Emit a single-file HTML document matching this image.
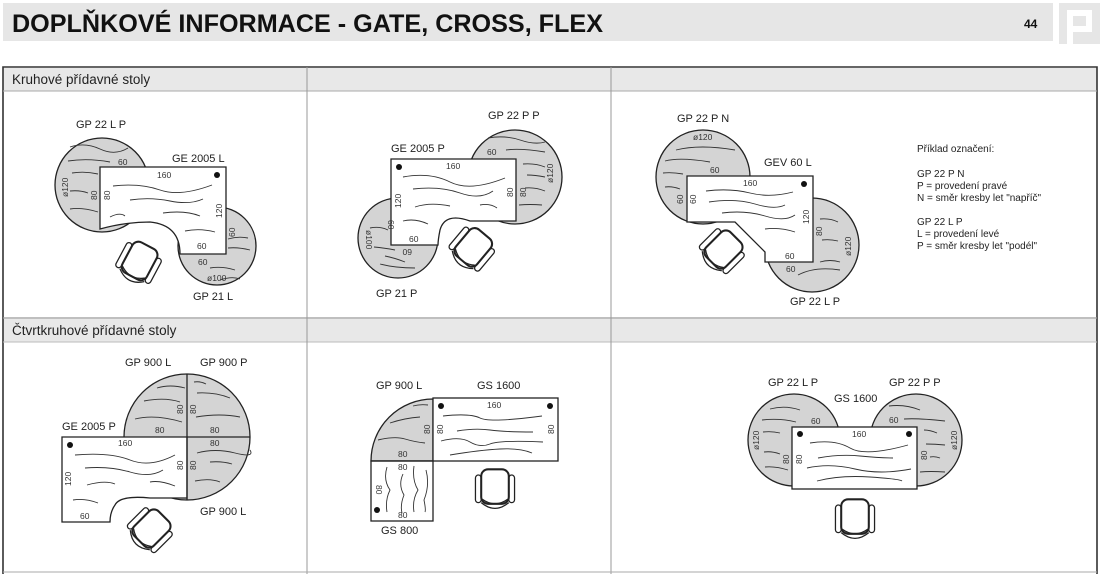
<!DOCTYPE html>
<html><head><meta charset="utf-8"><style>
html,body{margin:0;padding:0;background:#fff;width:1100px;height:574px;overflow:hidden}
svg{display:block}
text{font-family:"Liberation Sans",Arial,sans-serif;fill:#222}
.l{font-size:11px}
.d{font-size:8.5px;fill:#333}
.g{fill:#d4d4d4;stroke:#222;stroke-width:1.3}
.w{fill:#fff;stroke:#222;stroke-width:1.3}
.v{fill:none;stroke:#333;stroke-width:0.9}
</style></head><body>
<svg width="1100" height="574" viewBox="0 0 1100 574" xmlns="http://www.w3.org/2000/svg">
<defs>
<g id="ch" transform="scale(1.15)">
<rect x="-17" y="-13" width="5" height="24" rx="2.5" fill="#fff" stroke="#222" stroke-width="1.1"/>
<rect x="12" y="-13" width="5" height="24" rx="2.5" fill="#fff" stroke="#222" stroke-width="1.1"/>
<rect x="-12" y="-18" width="24" height="30" rx="6" fill="#fff" stroke="#222" stroke-width="1.8"/>
<path d="M-11 8 Q0 16 11 8 M-12 11 Q0 21 12 11" fill="none" stroke="#222" stroke-width="1.1"/>
</g>
</defs>
<!-- header -->
<rect x="3" y="3" width="1050" height="38" fill="#e6e6e6"/>
<text x="12" y="32" textLength="591" lengthAdjust="spacingAndGlyphs" style="font-size:25px;font-weight:bold;fill:#111">DOPLŇKOVÉ INFORMACE - GATE, CROSS, FLEX</text>
<text x="1024" y="28" style="font-size:12px;font-weight:bold;fill:#111">44</text>
<rect x="1059" y="3" width="41" height="41" fill="#e6e6e6"/>
<path d="M1067 10 H1092 V32 H1073 V44 H1067 Z M1073 16 V26 H1086 V16 Z" fill="#fff"/>
<!-- table -->
<rect x="3" y="68" width="1094" height="23" fill="#e8e8e8"/>
<rect x="3" y="319" width="1094" height="23" fill="#e8e8e8"/>
<path d="M3 574 V67 H1097 V574" fill="none" stroke="#333" stroke-width="1.6"/>
<line x1="3" y1="91" x2="1097" y2="91" stroke="#aaa"/>
<line x1="3" y1="318" x2="1097" y2="318" stroke="#999" stroke-width="1.2"/>
<line x1="3" y1="342" x2="1097" y2="342" stroke="#bbb"/>
<line x1="307" y1="67" x2="307" y2="574" stroke="#999"/>
<line x1="611" y1="67" x2="611" y2="574" stroke="#999"/>
<line x1="3" y1="572" x2="1097" y2="572" stroke="#aaa"/>
<text x="12" y="84" style="font-size:13.5px">Kruhové přídavné stoly</text>
<text x="12" y="335" style="font-size:13.5px">Čtvrtkruhové přídavné stoly</text>

<!-- panel 1 -->
<circle cx="102" cy="185" r="47" class="g"/>
<circle cx="217" cy="246" r="39" class="g"/>
<path d="M100 167 H226 V254 H180 Q180 225 150 222 Q125 222 100 229 Z" class="w"/>
<circle cx="217" cy="175" r="3" fill="#111"/>
<path class="v" d="M70 147 Q85 142 100 149 T128 148 M68 161 Q88 158 110 162 M72 173 Q85 171 98 174 M70 191 Q80 190 88 193 M70 209 Q82 207 98 212 M113 186 Q140 183 160 190 T212 185 M130 200 Q150 197 170 201 T203 199 M110 217 Q120 212 125 216 M163 213 Q185 210 200 216 M185 231 Q200 228 215 232 M210 268 Q222 266 235 270 M228 239 Q238 236 248 238 M228 248 Q238 247 250 250 M220 280 Q232 276 240 279"/>
<text x="76" y="128" class="l">GP 22 L P</text>
<text x="172" y="162" class="l">GE 2005 L</text>
<text x="193" y="300" class="l">GP 21 L</text>
<text x="157" y="178" class="d">160</text>
<text x="118" y="165" class="d">60</text>
<text x="197" y="249" class="d">60</text>
<text x="198" y="265" class="d">60</text>
<text x="207" y="281" class="d">ø100</text>
<text class="d" transform="translate(97,200) rotate(-90)">80</text>
<text class="d" transform="translate(110,200) rotate(-90)">80</text>
<text class="d" transform="translate(68,197) rotate(-90)">ø120</text>
<text class="d" transform="translate(222,218) rotate(-90)">120</text>
<text class="d" transform="translate(235,237) rotate(-90)">60</text>
<use href="#ch" transform="translate(138,264) rotate(28)"/>

<!-- panel 2 -->
<circle cx="515" cy="177" r="47" class="g"/>
<circle cx="398" cy="238" r="40" class="g"/>
<path d="M391 159 H516 V221 H470 Q445 212 440 230 Q438 240 438 245 H391 Z" class="w"/>
<circle cx="399" cy="167" r="3" fill="#111"/>
<path class="v" d="M488 138 Q505 135 520 140 T545 142 M506 150 Q520 148 545 152 M523 164 Q535 163 545 167 M527 175 Q535 175 545 177 M525 188 Q535 187 545 191 M519 205 Q530 204 542 205 M403 177 Q430 172 450 182 T505 178 M413 189 Q440 186 460 193 T493 191 M415 207 Q430 202 450 206 M480 205 Q490 203 497 208 M403 221 Q415 218 428 224 M370 228 Q380 226 388 230 M374 247 Q385 248 395 250 M385 256 Q395 258 405 262 M380 264 Q395 268 415 268"/>
<text x="488" y="119" class="l">GP 22 P P</text>
<text x="391" y="152" class="l">GE 2005 P</text>
<text x="376" y="297" class="l">GP 21 P</text>
<text x="446" y="169" class="d">160</text>
<text x="487" y="155" class="d">60</text>
<text x="409" y="242" class="d">60</text>
<text class="d" transform="translate(412,249) rotate(180)">60</text>
<text class="d" transform="translate(513,197) rotate(-90)">80</text>
<text class="d" transform="translate(526,197) rotate(-90)">80</text>
<text class="d" transform="translate(553,183) rotate(-90)">ø120</text>
<text class="d" transform="translate(401,208) rotate(-90)">120</text>
<text class="d" transform="translate(388,220) rotate(90)">60</text>
<text class="d" transform="translate(366,230) rotate(90)">ø100</text>
<use href="#ch" transform="translate(471,250) rotate(40)"/>

<!-- panel 3 -->
<circle cx="703" cy="177" r="47" class="g"/>
<circle cx="812" cy="245" r="47" class="g"/>
<path d="M687 176 H813 V262 H765 V252 L735 222 H687 Z" class="w"/>
<circle cx="804" cy="184" r="3" fill="#111"/>
<path class="v" d="M676 150 Q700 144 735 150 M665 161 Q680 157 710 162 M663 173 Q672 172 683 174 M665 187 Q672 186 680 189 M706 191 Q730 188 750 193 T793 192 M709 202 Q735 198 755 204 T785 205 M722 213 Q745 210 765 216 T795 215 M765 229 Q780 227 795 232 M820 219 Q830 218 838 222 M822 240 Q830 239 838 241 M820 262 Q830 259 840 262 M798 275 Q815 266 840 270"/>
<text x="677" y="122" class="l">GP 22 P N</text>
<text x="764" y="166" class="l">GEV 60 L</text>
<text x="790" y="305" class="l">GP 22 L P</text>
<text x="743" y="186" class="d">160</text>
<text x="710" y="173" class="d">60</text>
<text x="785" y="259" class="d">60</text>
<text x="786" y="272" class="d">60</text>
<text x="693" y="140" class="d">ø120</text>
<text class="d" transform="translate(683,204) rotate(-90)">60</text>
<text class="d" transform="translate(696,204) rotate(-90)">60</text>
<text class="d" transform="translate(809,224) rotate(-90)">120</text>
<text class="d" transform="translate(822,236) rotate(-90)">80</text>
<text class="d" transform="translate(851,256) rotate(-90)">ø120</text>
<use href="#ch" transform="translate(721,252) rotate(45)"/>
<text x="917" y="152" style="font-size:10px">Příklad označení:</text>
<text x="917" y="177" style="font-size:10px">GP 22 P N</text>
<text x="917" y="189" style="font-size:10px">P = provedení pravé</text>
<text x="917" y="201" style="font-size:10px">N = směr kresby let "napříč"</text>
<text x="917" y="225" style="font-size:10px">GP 22 L  P</text>
<text x="917" y="237" style="font-size:10px">L = provedení levé</text>
<text x="917" y="249" style="font-size:10px">P = směr kresby let "podél"</text>

<!-- panel 4 -->
<circle cx="187" cy="437" r="63" class="g"/>
<path d="M62 437 H187 V498 H150 Q120 495 115 505 Q110 512 110 522 H62 Z" class="w"/>
<line x1="187" y1="374" x2="187" y2="500" stroke="#222" stroke-width="1.3"/>
<line x1="187" y1="437" x2="250" y2="437" stroke="#222" stroke-width="1.3"/>
<circle cx="70" cy="445" r="3" fill="#111"/>
<path class="v" d="M157 388 Q170 384 185 388 M144 401 Q165 397 180 402 M135 419 Q155 414 182 422 M194 382 Q200 381 206 384 M197 393 Q215 392 230 398 M196 417 Q220 413 240 417 M197 453 Q215 448 235 453 T250 450 M210 462 Q222 461 232 464 M195 481 Q210 478 220 482 M75 455 Q110 452 130 460 T175 455 M85 468 Q110 466 130 472 T163 470 M87 485 Q105 480 115 484 M150 482 Q160 480 175 486 M73 500 Q85 498 98 503"/>
<text x="125" y="366" class="l">GP 900 L</text>
<text x="200" y="366" class="l">GP 900 P</text>
<text x="62" y="430" class="l">GE 2005 P</text>
<text x="200" y="515" class="l">GP 900 L</text>
<text x="118" y="446" class="d">160</text>
<text x="155" y="433" class="d">80</text>
<text x="210" y="433" class="d">80</text>
<text x="210" y="446" class="d">80</text>
<text x="80" y="519" class="d">60</text>
<text class="d" transform="translate(183,414) rotate(-90)">80</text>
<text class="d" transform="translate(196,414) rotate(-90)">80</text>
<text class="d" transform="translate(183,470) rotate(-90)">80</text>
<text class="d" transform="translate(196,470) rotate(-90)">80</text>
<text class="d" transform="translate(71,486) rotate(-90)">120</text>
<use href="#ch" transform="translate(149,531) rotate(45)"/>

<!-- panel 5 -->
<path d="M371 461 A62 62 0 0 1 433 399 V461 Z" class="g"/>
<rect x="433" y="398" width="125" height="63" class="w"/>
<rect x="371" y="461" width="62" height="60" class="w"/>
<line x1="371" y1="461" x2="433" y2="461" stroke="#222" stroke-width="1.3"/>
<circle cx="441" cy="406" r="3" fill="#111"/>
<circle cx="550" cy="406" r="3" fill="#111"/>
<circle cx="377" cy="510" r="3" fill="#111"/>
<path class="v" d="M413 406 Q420 404 428 405 M390 423 Q405 418 420 417 M378 440 Q395 436 405 439 T425 443 M443 416 Q470 413 480 418 T542 416 M457 431 Q475 428 490 430 T533 432 M441 441 Q460 436 470 442 T490 444 T543 442 M450 455 Q480 450 500 449 T532 453 M387 467 Q383 480 390 490 Q385 500 387 512 M403 474 Q398 485 404 495 Q400 505 402 513 M414 466 Q412 480 418 490 Q412 500 414 512 M426 470 Q430 485 424 500 Q426 510 425 512"/>
<text x="376" y="389" class="l">GP 900 L</text>
<text x="477" y="389" class="l">GS 1600</text>
<text x="381" y="534" class="l">GS 800</text>
<text x="487" y="408" class="d">160</text>
<text x="398" y="457" class="d">80</text>
<text x="398" y="470" class="d">80</text>
<text x="398" y="518" class="d">80</text>
<text class="d" transform="translate(430,434) rotate(-90)">80</text>
<text class="d" transform="translate(443,434) rotate(-90)">80</text>
<text class="d" transform="translate(554,434) rotate(-90)">80</text>
<text class="d" transform="translate(376,485) rotate(90)">80</text>
<use href="#ch" transform="translate(495,490)"/>

<!-- panel 6 -->
<circle cx="794" cy="440" r="46" class="g"/>
<circle cx="916" cy="440" r="46" class="g"/>
<rect x="792" y="427" width="125" height="62" class="w"/>
<circle cx="800" cy="434" r="3" fill="#111"/>
<circle cx="909" cy="434" r="3" fill="#111"/>
<path class="v" d="M770 409 Q785 405 800 410 M762 420 Q780 418 796 422 M763 432 Q772 431 780 433 M764 452 Q772 451 780 454 M765 467 Q775 466 788 470 M889 406 Q905 404 920 410 M904 419 Q918 418 945 421 M924 430 Q930 430 937 433 M926 444 Q935 444 945 445 M930 457 Q935 456 940 458 M920 472 Q930 471 945 472 M810 443 Q835 439 850 448 T908 445 M818 458 Q840 454 860 456 T893 458 M807 468 Q830 463 855 469 T911 469 M817 481 Q840 475 870 477 T902 481"/>
<text x="768" y="386" class="l">GP 22 L P</text>
<text x="889" y="386" class="l">GP 22 P P</text>
<text x="834" y="402" class="l">GS 1600</text>
<text x="852" y="437" class="d">160</text>
<text x="811" y="424" class="d">60</text>
<text x="889" y="423" class="d">60</text>
<text class="d" transform="translate(789,464) rotate(-90)">80</text>
<text class="d" transform="translate(802,464) rotate(-90)">80</text>
<text class="d" transform="translate(927,460) rotate(-90)">80</text>
<text class="d" transform="translate(759,450) rotate(-90)">ø120</text>
<text class="d" transform="translate(957,450) rotate(-90)">ø120</text>
<use href="#ch" transform="translate(855,520)"/>
</svg>
</body></html>
